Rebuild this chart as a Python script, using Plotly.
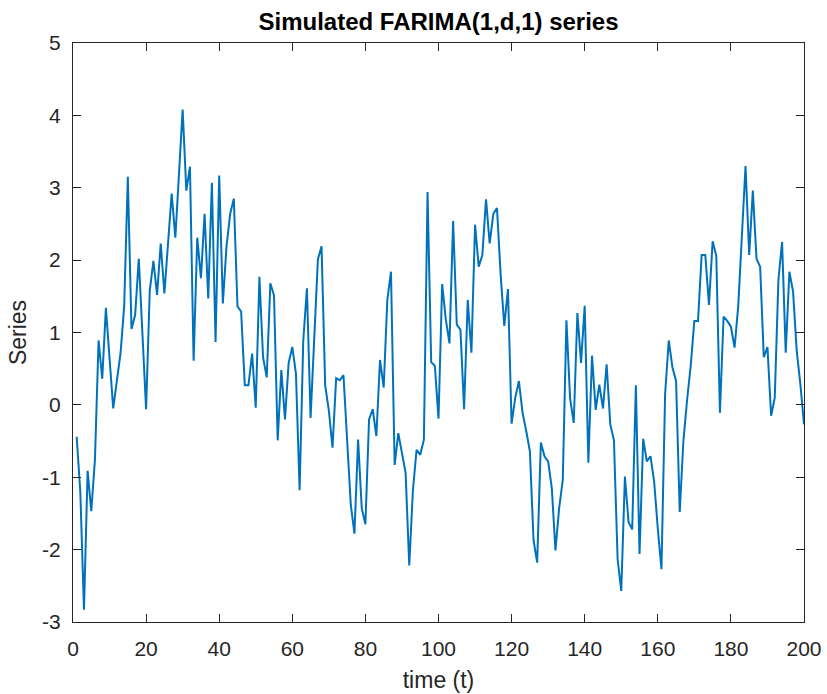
import plotly.graph_objects as go

t = list(range(1, 201))
series = [
    -0.44, -1.20, -2.83, -0.91, -1.47, -0.76, 0.89, 0.36, 1.34, 0.66,
    -0.05, 0.33, 0.71, 1.36, 3.15, 1.05, 1.24, 2.02, 0.95, -0.06,
    1.58, 1.99, 1.52, 2.23, 1.54, 2.20, 2.92, 2.31, 3.17, 4.08,
    2.96, 3.29, 0.61, 2.31, 1.75, 2.64, 1.47, 3.07, 0.87, 3.17,
    1.40, 2.19, 2.64, 2.85, 1.36, 1.29, 0.27, 0.27, 0.71, -0.04,
    1.77, 0.66, 0.38, 1.68, 1.51, -0.49, 0.48, -0.20, 0.58, 0.80,
    0.43, -1.18, 0.89, 1.61, -0.18, 0.90, 2.01, 2.19, 0.27, -0.08,
    -0.59, 0.37, 0.34, 0.41, -0.45, -1.38, -1.78, -0.48, -1.43, -1.65,
    -0.20, -0.06, -0.43, 0.62, 0.24, 1.45, 1.84, -0.83, -0.39, -0.66,
    -0.94, -2.22, -1.18, -0.62, -0.69, -0.48, 2.94, 0.59, 0.54, -0.19,
    1.67, 1.18, 0.85, 2.54, 1.11, 1.04, -0.06, 1.45, 0.72, 2.49,
    1.91, 2.07, 2.84, 2.23, 2.64, 2.72, 1.80, 1.09, 1.60, -0.26,
    0.10, 0.33, -0.11, -0.36, -0.64, -1.87, -2.18, -0.52, -0.71, -0.78,
    -1.15, -2.01, -1.43, -1.04, 1.17, 0.09, -0.25, 1.27, 0.58, 1.37,
    -0.80, 0.68, -0.07, 0.28, -0.05, 0.56, -0.27, -0.49, -2.13, -2.57,
    -0.99, -1.62, -1.72, 0.27, -2.06, -0.47, -0.78, -0.71, -1.06, -1.71,
    -2.27, 0.15, 0.89, 0.52, 0.33, -1.48, -0.50, 0.06, 0.54, 1.16,
    1.16, 2.07, 2.07, 1.38, 2.26, 2.06, -0.11, 1.22, 1.16, 1.08,
    0.79, 1.36, 2.38, 3.30, 2.07, 2.96, 2.02, 1.91, 0.66, 0.80,
    -0.15, 0.10, 1.73, 2.25, 0.72, 1.84, 1.57, 0.75, 0.29, -0.27,
]

x_ticks = [0, 20, 40, 60, 80, 100, 120, 140, 160, 180, 200]
y_ticks = [-3, -2, -1, 0, 1, 2, 3, 4, 5]
y_tick_labels = ["-3", "-2", "-1", "0", "1", "2", "3", "4", "5"]

axis_color = "#262626"
font_family = "Liberation Sans, Arial, sans-serif"

fig = go.Figure()
fig.add_trace(go.Scatter(
    x=t, y=series, mode="lines",
    line=dict(color="#0072BD", width=2),
    showlegend=False,
))

common_axis = dict(
    showline=True, linecolor=axis_color, linewidth=1, mirror="ticks",
    ticks="inside", ticklen=8, tickwidth=1, tickcolor=axis_color,
    showgrid=False, zeroline=False, automargin=False,
    tickfont=dict(family=font_family, size=21, color=axis_color),
)

fig.update_layout(
    width=827, height=694,
    margin=dict(l=73, r=23, t=43, b=72),
    paper_bgcolor="white", plot_bgcolor="white",
    title=dict(
        text="<b>Simulated FARIMA(1,d,1) series</b>",
        font=dict(family=font_family, size=24, color="black"),
        x=(73 + 804) / 2 / 827, xanchor="center",
        yref="container", y=1 - 22 / 694, yanchor="middle",
    ),
    xaxis=dict(
        range=[0, 200], tickvals=x_ticks,
        title=dict(text="time (t)", font=dict(family=font_family, size=23, color=axis_color), standoff=12),
        ticklabelstandoff=8,
        **common_axis,
    ),
    yaxis=dict(
        range=[-3, 5], tickvals=y_ticks, ticktext=y_tick_labels,
        title=dict(text="Series", font=dict(family=font_family, size=23, color=axis_color), standoff=9),
        ticklabelstandoff=7,
        **common_axis,
    ),
)

fig.write_html("out.html")
